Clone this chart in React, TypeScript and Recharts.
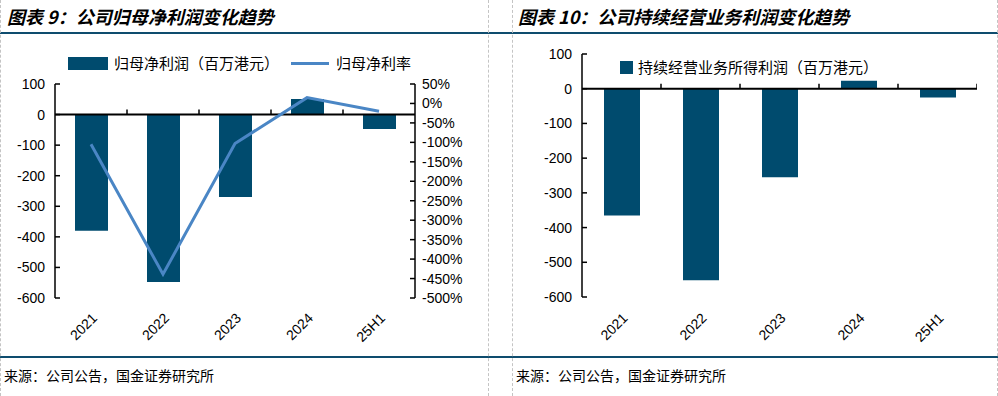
import React from 'react';
import { ComposedChart, Bar, Line, Scatter, XAxis, YAxis, ReferenceLine, Legend } from 'recharts';

const categories = ['2021', '2022', '2023', '2024', '25H1'];
const netProfit = [-380, -548, -270, 51, -47];
const netMargin = [-105, -439, -103, 15, -20];
const contProfit = [-365, -552, -255, 23, -25];

const leftTicks1 = [100, 0, -100, -200, -300, -400, -500, -600];
const rightTicks1 = [50, 0, -50, -100, -150, -200, -250, -300, -350, -400, -450, -500];
const leftTicks2 = [100, 0, -100, -200, -300, -400, -500, -600];

const title1 = '图表 9：公司归母净利润变化趋势';
const title2 = '图表 10：公司持续经营业务利润变化趋势';
const barName1 = '归母净利润（百万港元）';
const lineName1 = '归母净利率';
const barName2 = '持续经营业务所得利润（百万港元）';
const sourceText = '来源：公司公告，国金证券研究所';

const data1 = categories.map((c, i) => ({ cat: c, profit: netProfit[i], margin: netMargin[i] }));
const data2 = categories.map((c, i) => ({ cat: c, profit: contProfit[i] }));
// category boundaries (band edges) on a hidden numeric axis spanning [0, n], sitting on the zero line
const edges1 = categories.slice(1).map((_, i) => ({ edge: i + 1, zero: 0 }));
const edges2 = categories.map((_, i) => ({ edge: i + 1, zero: 0 }));

const BAR = '#004B6E';
const LINE = '#4A86C5';
const NAVY = '#0E4C6E';
const latin = '"Liberation Sans", Arial, sans-serif';
const cjk = '"Noto Sans CJK SC", sans-serif';

const tickStyle = { fontSize: 14, fill: '#000', fontFamily: latin };
const axisStroke = { stroke: '#000', strokeWidth: 1.5 };

const EdgeTick = (props: any) => {
  const { cx, cy } = props;
  if (cx == null || cy == null) return null;
  return <line x1={cx} x2={cx} y1={cy} y2={cy - 5} stroke="#000" strokeWidth={1.5} />;
};

const Legend1 = () => (
  <div style={{ display: 'flex', alignItems: 'center', fontFamily: cjk, fontSize: 15, color: '#000', whiteSpace: 'nowrap', lineHeight: '22px' }}>
    <span style={{ display: 'inline-block', width: 40, height: 13, background: BAR, marginRight: 6 }} />
    <span>{barName1}</span>
    <span style={{ display: 'inline-block', width: 38, height: 3, background: LINE, marginLeft: 12, marginRight: 7 }} />
    <span>{lineName1}</span>
  </div>
);

const Legend2 = () => (
  <div style={{ display: 'flex', alignItems: 'center', fontFamily: cjk, fontSize: 15, color: '#000', whiteSpace: 'nowrap', lineHeight: '22px' }}>
    <span style={{ display: 'inline-block', width: 13, height: 13, background: BAR, marginRight: 5 }} />
    <span>{barName2}</span>
  </div>
);

const vDash = (x: number) => (
  <div style={{ position: 'absolute', left: x, top: 0, height: 396, borderLeft: '1px dashed #c4c4c4' }} />
);

export default function App() {
  return (
    <div style={{ position: 'absolute', left: 0, top: 0, width: 998, height: 396, background: '#fff', overflow: 'hidden' }}>
      <div style={{ position: 'absolute', left: 0, top: 32, width: 998, height: 2, background: NAVY }} />
      <div style={{ position: 'absolute', left: 0, top: 356, width: 998, height: 2, background: NAVY }} />
      {vDash(0)}
      {vDash(488)}
      {vDash(512)}
      {vDash(997)}
      <div style={{ position: 'absolute', left: 7, top: 3, fontFamily: cjk, fontSize: 18, fontWeight: 'bold', fontStyle: 'italic', color: '#000', whiteSpace: 'nowrap' }}>{title1}</div>
      <div style={{ position: 'absolute', left: 518, top: 3, fontFamily: cjk, fontSize: 18, fontWeight: 'bold', fontStyle: 'italic', color: '#000', whiteSpace: 'nowrap' }}>{title2}</div>
      <div style={{ position: 'absolute', left: 4, top: 365, fontFamily: cjk, fontSize: 14, color: '#000', whiteSpace: 'nowrap' }}>{sourceText}</div>
      <div style={{ position: 'absolute', left: 516, top: 365, fontFamily: cjk, fontSize: 14, color: '#000', whiteSpace: 'nowrap' }}>{sourceText}</div>

      <div style={{ position: 'absolute', left: 0, top: 0 }}>
        <ComposedChart width={488} height={357} data={data1} margin={{ top: 84, right: 13, bottom: 9, left: 0 }}>
          <XAxis dataKey="cat" axisLine={false} tickLine={false} tickSize={0} interval={0} height={50} angle={-45}
            tick={{ ...tickStyle, textAnchor: 'end' }} tickMargin={14} />
          <XAxis xAxisId="edge" dataKey="edge" type="number" domain={[0, categories.length]} allowDataOverflow hide />
          <YAxis yAxisId="left" domain={[-600, 100]} ticks={leftTicks1} interval={0} width={55} tickSize={-5} tickMargin={15}
            axisLine={axisStroke} tickLine={axisStroke} tick={tickStyle} allowDataOverflow />
          <YAxis yAxisId="right" orientation="right" domain={[-500, 50]} ticks={rightTicks1} interval={0} width={60} tickSize={-5} tickMargin={12}
            axisLine={axisStroke} tickLine={axisStroke} tick={{ ...tickStyle, textAnchor: 'start' }} tickFormatter={(v: number) => `${v}%`} allowDataOverflow />
          <ReferenceLine yAxisId="left" y={0} stroke="#000" strokeWidth={2} />
          <Scatter data={edges1} xAxisId="edge" yAxisId="left" dataKey="zero" shape={<EdgeTick />} isAnimationActive={false} legendType="none" />
          <Bar yAxisId="left" dataKey="profit" name={barName1} fill={BAR} barSize={33} isAnimationActive={false} />
          <Line yAxisId="right" dataKey="margin" name={lineName1} stroke={LINE} strokeWidth={3} dot={false} activeDot={false} isAnimationActive={false} />
          <Legend layout="horizontal" verticalAlign="middle" align="center" wrapperStyle={{ top: 52, left: 68, width: 'auto' }} content={() => <Legend1 />} />
        </ComposedChart>
      </div>

      <div style={{ position: 'absolute', left: 512, top: 0 }}>
        <ComposedChart width={486} height={357} data={data2} margin={{ top: 54, right: 21, bottom: 10, left: 0 }}>
          <XAxis dataKey="cat" axisLine={false} tickLine={false} tickSize={0} interval={0} height={50} angle={-45}
            tick={{ ...tickStyle, textAnchor: 'end' }} tickMargin={15} />
          <XAxis xAxisId="edge" dataKey="edge" type="number" domain={[0, categories.length]} allowDataOverflow hide />
          <YAxis domain={[-600, 100]} ticks={leftTicks2} interval={0} width={70} tickSize={-5} tickMargin={15}
            axisLine={axisStroke} tickLine={axisStroke} tick={tickStyle} allowDataOverflow />
          <ReferenceLine y={0} stroke="#000" strokeWidth={2} />
          <Scatter data={edges2} xAxisId="edge" dataKey="zero" shape={<EdgeTick />} isAnimationActive={false} legendType="none" />
          <Bar dataKey="profit" name={barName2} fill={BAR} barSize={36} isAnimationActive={false} />
          <Legend layout="horizontal" verticalAlign="middle" align="center" wrapperStyle={{ top: 56, left: 108, width: 'auto' }} content={() => <Legend2 />} />
        </ComposedChart>
      </div>
    </div>
  );
}
